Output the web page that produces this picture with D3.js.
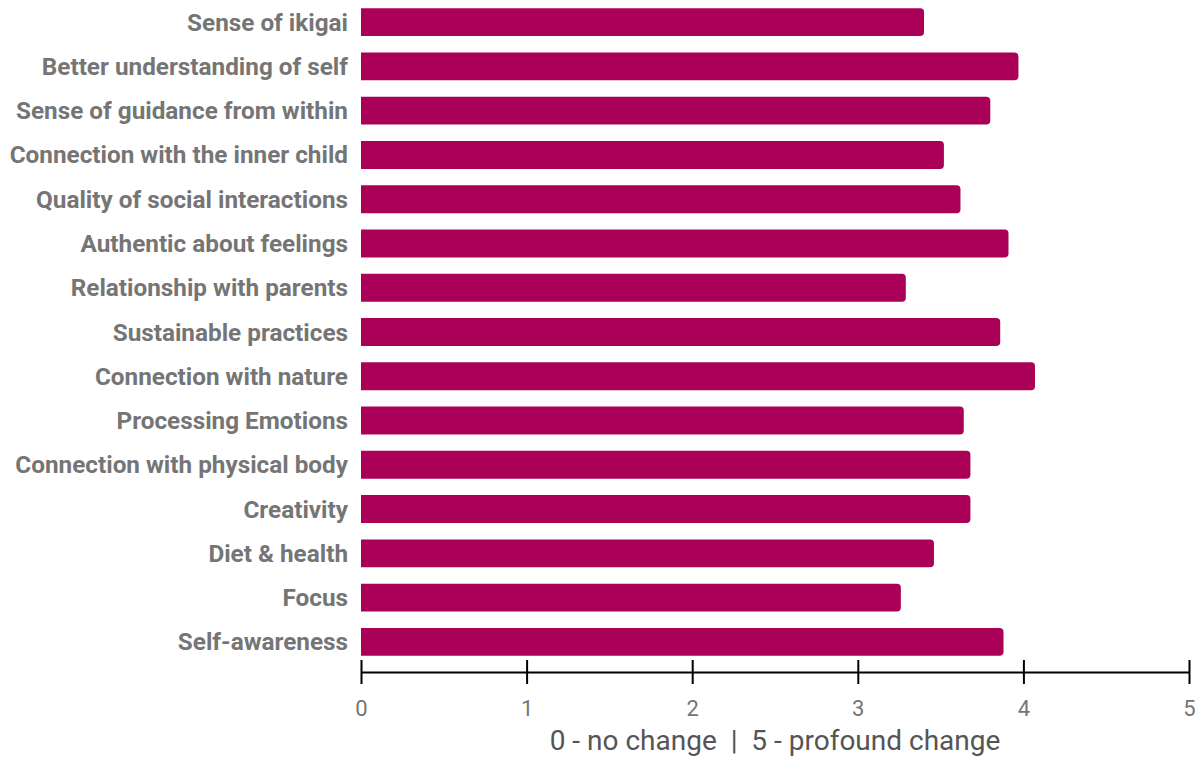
<!DOCTYPE html>
<html lang="en">
<head>
  <meta charset="UTF-8">
  <style>
    body { margin: 0; background: #fff; }
    svg { display: block; font-family: Roboto, sans-serif; }
  </style>
</head>
<body>
  <svg id="svg" width="1204" height="758"></svg>

  <script src="https://d3js.org/d3.v7.min.js"></script>
  <script>
    const categories = [
      'Sense of ikigai',
      'Better understanding of self',
      'Sense of guidance from within',
      'Connection with the inner child',
      'Quality of social interactions',
      'Authentic about feelings',
      'Relationship with parents',
      'Sustainable practices',
      'Connection with nature',
      'Processing Emotions',
      'Connection with physical body',
      'Creativity',
      'Diet & health',
      'Focus',
      'Self-awareness'
    ]
    const scores = [3.40, 3.97, 3.80, 3.52, 3.62, 3.91, 3.29, 3.86, 4.07, 3.64, 3.68, 3.68, 3.46, 3.26, 3.88]
    const xTicks = [0, 1, 2, 3, 4, 5]
    const axisTitle = '0 - no change  |  5 - profound change'

    const data = categories.map((c, i) => ({ name: c, value: scores[i] }))

    const svg = d3.select('#svg')

    // x scale
    const xscale = d3.scaleLinear()
      .domain([0, 5])
      .range([361, 1189])

    // y scale
    const yscale = d3.scaleBand()
      .domain(categories)
      .range([0, 664])
      .paddingInner(0.37)
      .paddingOuter(0.185)

    // bars, rounded on the right end only
    const r = 4
    const barPath = d => {
      const x0 = xscale(0), x1 = xscale(d.value)
      const y0 = yscale(d.name), h = yscale.bandwidth()
      return `M${x0},${y0} H${x1 - r} Q${x1},${y0} ${x1},${y0 + r} V${y0 + h - r} Q${x1},${y0 + h} ${x1 - r},${y0 + h} H${x0} Z`
    }
    svg.append('g')
      .selectAll('path')
      .data(data)
      .enter()
      .append('path')
      .attr('d', barPath)
      .attr('fill', '#ab0058')

    // category labels
    svg.append('g')
      .selectAll('text')
      .data(data)
      .enter()
      .append('text')
      .attr('x', 348)
      .attr('y', d => yscale(d.name) + yscale.bandwidth() / 2)
      .attr('dy', '0.35em')
      .attr('text-anchor', 'end')
      .attr('font-size', 24.3)
      .attr('font-weight', 'bold')
      .attr('fill', '#757575')
      .text(d => d.name)

    // bottom axis
    const bottomAxis = d3.axisBottom(xscale)
      .tickValues(xTicks)
      .tickFormat(d3.format('d'))
      .tickSize(0)
      .tickPadding(0)
    const axisG = svg.append('g')
      .attr('transform', 'translate(0, 672)')
      .call(bottomAxis)
    axisG.select('.domain')
      .attr('stroke', '#000')
      .attr('stroke-width', 2)
    axisG.selectAll('.tick line').remove()
    axisG.selectAll('.tick')
      .append('line')
      .attr('y1', -12)
      .attr('y2', 12)
      .attr('stroke', '#000')
      .attr('stroke-width', 2)
    axisG.selectAll('.tick text')
      .attr('y', 36)
      .attr('dy', '0.35em')
      .style('font-size', '22px')
      .attr('font-family', 'Roboto, sans-serif')
      .attr('fill', '#757575')

    // axis title
    svg.append('text')
      .attr('x', 775)
      .attr('y', 740)
      .attr('dy', '0.35em')
      .attr('text-anchor', 'middle')
      .attr('font-size', 28)
      .attr('fill', '#555')
      .style('white-space', 'pre')
      .text(axisTitle)
  </script>
</body>
</html>
